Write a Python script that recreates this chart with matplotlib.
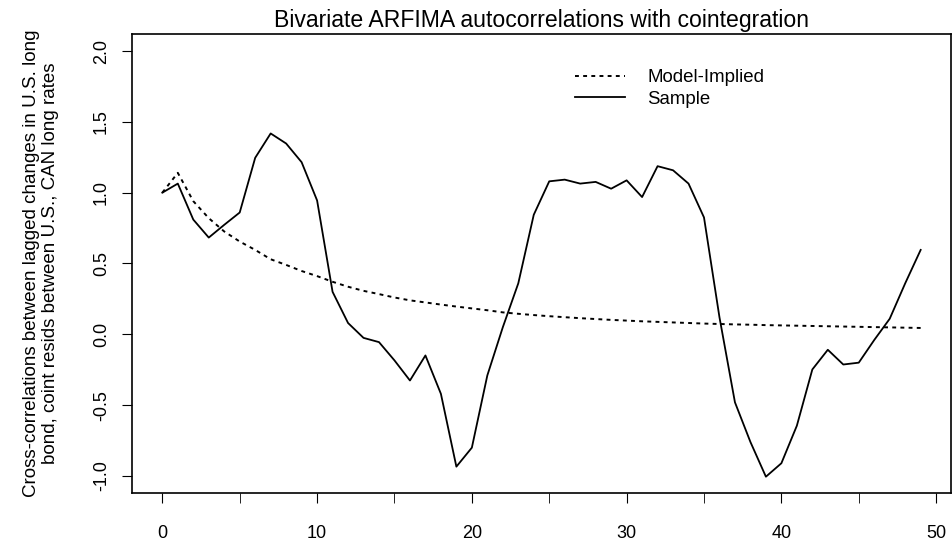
import matplotlib
matplotlib.use("Agg")
import matplotlib.pyplot as plt

plt.rcParams['font.family'] = ['Liberation Sans', 'DejaVu Sans']

# lags 0..49
lags = list(range(50))

model_implied = [1.00, 1.14, 0.94, 0.82, 0.726, 0.655, 0.596, 0.53, 0.49, 0.447,
                 0.411, 0.371, 0.336, 0.307, 0.284, 0.26, 0.24, 0.225, 0.21, 0.196,
                 0.183, 0.17, 0.155, 0.145, 0.136, 0.128, 0.121, 0.114, 0.108, 0.102,
                 0.097, 0.092, 0.088, 0.084, 0.080, 0.076, 0.073, 0.070, 0.068, 0.065,
                 0.063, 0.061, 0.059, 0.057, 0.055, 0.053, 0.051, 0.049, 0.047, 0.045]

sample = [1.00, 1.064, 0.81, 0.683, 0.773, 0.86, 1.246, 1.418, 1.347, 1.215,
          0.945, 0.30, 0.08, -0.025, -0.055, -0.184, -0.326, -0.149, -0.42, -0.934,
          -0.80, -0.29, 0.05, 0.36, 0.844, 1.08, 1.092, 1.064, 1.076, 1.028,
          1.087, 0.969, 1.187, 1.158, 1.064, 0.825, 0.12, -0.48, -0.76, -1.005,
          -0.91, -0.645, -0.248, -0.109, -0.213, -0.2, -0.04, 0.11, 0.36, 0.596]

x_ticks = [0, 10, 20, 30, 40, 50]
y_ticks = [-1.0, -0.5, 0.0, 0.5, 1.0, 1.5, 2.0]

fig = plt.figure(figsize=(9.52, 5.53), dpi=100)
ax = fig.add_axes([132 / 952, 1 - 493 / 553, 819 / 952, 459 / 553])

ax.plot(lags, model_implied, color='black', lw=1.4, linestyle=(0, (2, 2.2)), label='Model-Implied')
ax.plot(lags, sample, color='black', lw=1.3, label='Sample')

ax.set_xlim(-1.96, 50.96)
ax.set_ylim(-1.12, 2.12)

ax.set_xticks(x_ticks)
ax.set_xticks([t + 5 for t in x_ticks[:-1]], minor=True)
ax.set_xticklabels([str(t) for t in x_ticks])
ax.tick_params(axis='x', which='both', length=7, direction='out', labelsize=13, pad=16)
ax.set_yticks(y_ticks)
ax.set_yticklabels([f"{t:.1f}" for t in y_ticks], rotation=90, va='center')
ax.tick_params(axis='y', length=7, direction='out', labelsize=13, pad=9)

for s in ax.spines.values():
    s.set_linewidth(1.2)

ax.set_title("Bivariate ARFIMA autocorrelations with cointegration", fontsize=16.6, pad=5)
ax.set_ylabel("Cross-correlations between lagged changes in U.S. long\n"
              "bond, coint resids between U.S., CAN long rates", fontsize=13.5, labelpad=24)

ax.legend(loc='upper left', bbox_to_anchor=(0.52, 0.96), frameon=False, fontsize=13.4,
          handlelength=2.7, handletextpad=1.2, labelspacing=0.25)

fig.savefig("out.png", dpi=100)
